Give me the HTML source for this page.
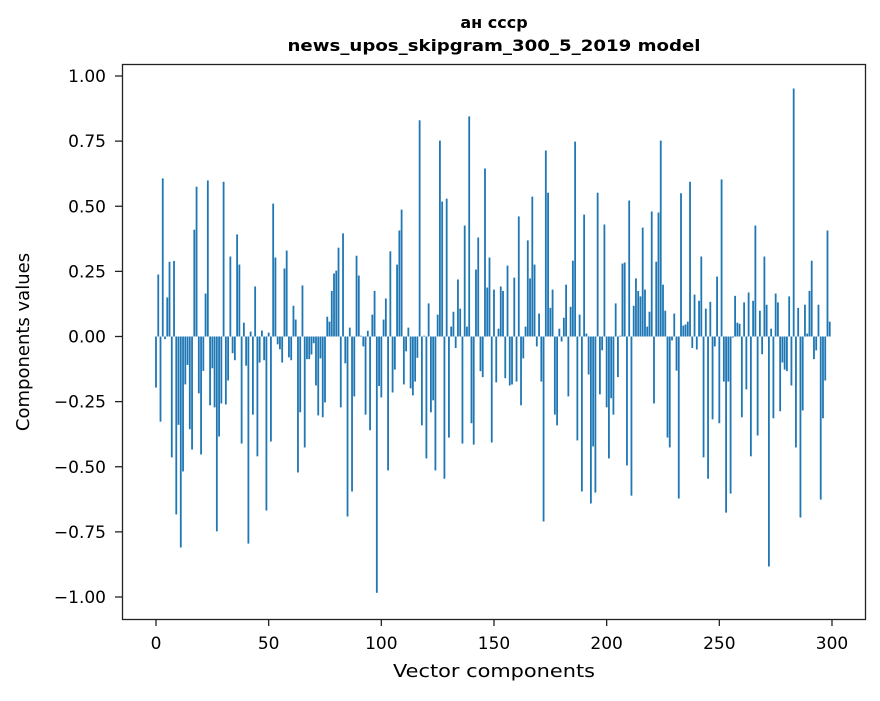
<!DOCTYPE html>
<html><head><meta charset="utf-8"><style>
html,body{margin:0;padding:0;background:#fff;}
svg text{font-family:"DejaVu Sans","Liberation Sans",sans-serif;fill:#000;}
</style></head><body>
<svg id="chart" width="880" height="696" viewBox="0 0 880 696" xmlns="http://www.w3.org/2000/svg">
<rect width="880" height="696" fill="#fff"/>
<text x="494" y="28" font-size="16" font-weight="bold" text-anchor="middle">ан ссср</text>
<text x="494" y="51" font-size="16" font-weight="bold" text-anchor="middle" textLength="413" lengthAdjust="spacingAndGlyphs">news_upos_skipgram_300_5_2019 model</text>
<g id="bars"></g>
<g id="axes"></g>
<rect x="122.5" y="64.5" width="743" height="555" fill="none" stroke="#222" stroke-width="1.3"/>
<text x="494" y="677" font-size="18" text-anchor="middle" textLength="202" lengthAdjust="spacingAndGlyphs">Vector components</text>
<text transform="translate(29,342) rotate(-90)" font-size="18" text-anchor="middle">Components values</text>
</svg>
<script>
const values = [
-0.196,0.238,-0.327,0.607,-0.01,0.15,0.287,-0.464,0.29,-0.683,
-0.339,-0.81,-0.518,-0.184,-0.109,-0.356,-0.434,0.41,0.575,-0.218,
-0.453,-0.132,0.165,0.599,-0.264,-0.122,-0.272,-0.748,-0.384,-0.257,
0.594,-0.261,-0.169,0.307,-0.064,-0.091,0.392,0.276,-0.411,0.053,
-0.112,-0.795,0.019,-0.30,0.192,-0.46,-0.10,0.023,-0.091,-0.668,
0.015,-0.403,0.51,0.303,-0.03,-0.049,-0.10,0.261,0.33,-0.08,
-0.091,0.118,0.065,-0.522,-0.291,0.196,-0.426,-0.087,-0.087,-0.069,
-0.026,-0.188,-0.303,-0.084,-0.31,-0.253,0.076,0.057,0.175,0.242,
0.253,0.341,-0.272,0.396,-0.103,-0.691,0.034,-0.595,-0.23,0.31,
0.234,0.003,-0.038,-0.30,0.022,-0.36,0.084,0.175,-0.984,-0.19,
-0.234,0.065,0.146,-0.514,0.327,-0.215,-0.127,0.276,0.407,0.487,
-0.184,-0.057,0.034,-0.199,-0.226,-0.173,-0.082,0.83,-0.341,0.003,
-0.468,0.127,-0.291,-0.245,-0.514,0.084,0.752,0.518,-0.546,0.529,
-0.388,0.038,0.095,-0.044,0.219,0.107,-0.411,0.426,0.038,0.845,
-0.333,-0.415,0.257,0.38,-0.133,-0.156,0.645,0.188,0.303,-0.407,
0.18,-0.176,0.03,0.192,0.175,-0.16,0.272,-0.188,-0.184,0.226,
-0.173,0.461,-0.264,-0.084,0.038,0.369,0.223,0.537,0.276,-0.038,
0.088,-0.173,-0.71,0.714,0.552,0.11,0.18,-0.30,-0.341,0.03,
-0.019,0.072,0.199,-0.23,0.114,0.291,0.748,-0.399,0.084,-0.595,
0.468,0.011,-0.146,-0.641,-0.422,-0.599,0.552,-0.222,-0.053,0.43,
-0.272,-0.468,-0.237,-0.30,0.127,-0.156,0.003,0.28,0.284,-0.495,
0.522,-0.611,0.118,0.223,0.175,0.154,0.418,0.18,0.038,0.095,
0.48,-0.257,0.287,0.476,0.752,0.199,0.099,-0.388,-0.426,-0.015,
0.088,-0.131,-0.622,0.55,0.042,0.046,0.057,0.594,-0.044,0.161,
-0.05,0.137,0.307,-0.464,0.107,-0.546,0.133,-0.318,-0.038,0.23,
-0.333,0.603,-0.173,-0.676,-0.173,-0.603,-0.004,0.156,0.053,0.049,
-0.31,0.131,-0.203,0.169,-0.46,0.137,0.426,-0.38,0.099,-0.068,
0.307,0.122,-0.883,0.03,-0.314,0.165,0.131,-0.287,-0.10,-0.127,
-0.133,0.154,-0.188,0.952,-0.426,0.11,-0.695,-0.284,0.122,0.011,
0.175,0.291,-0.087,-0.053,0.122,-0.626,-0.314,-0.169,0.407,0.057
];
const xTicks = [0,50,100,150,200,250,300];
const yTicks = [-1.00,-0.75,-0.50,-0.25,0.00,0.25,0.50,0.75,1.00];
const yTickLabels = ["\u22121.00","\u22120.75","\u22120.50","\u22120.25","0.00","0.25","0.50","0.75","1.00"];

const NS = "http://www.w3.org/2000/svg";
function xs(v){ return 156 + v * 2.2533; }
function ys(v){ return 336.5 - v * 260.5; }
const barsG = document.getElementById('bars');
const bw = 0.8 * 2.2533;
values.forEach((v, i) => {
  const r = document.createElementNS(NS, 'rect');
  const y0 = ys(0), y1 = ys(v);
  r.setAttribute('x', xs(i) - bw / 2);
  r.setAttribute('y', Math.min(y0, y1));
  r.setAttribute('width', bw);
  r.setAttribute('height', Math.max(Math.abs(y1 - y0), 0.01));
  r.setAttribute('fill', '#1f77b4');
  
  
  barsG.appendChild(r);
});
const axesG = document.getElementById('axes');
xTicks.forEach(t => {
  const l = document.createElementNS(NS, 'line');
  l.setAttribute('x1', xs(t)); l.setAttribute('x2', xs(t));
  l.setAttribute('y1', 619); l.setAttribute('y2', 626);
  l.setAttribute('stroke', '#222'); l.setAttribute('stroke-width', '1.3');
  
  
  axesG.appendChild(l);
  const tx = document.createElementNS(NS, 'text');
  tx.setAttribute('x', xs(t)); tx.setAttribute('y', 649);
  tx.setAttribute('font-size', '17'); tx.setAttribute('text-anchor', 'middle');
  tx.textContent = String(t);
  
  
  axesG.appendChild(tx);
});
yTicks.forEach((t, k) => {
  const l = document.createElementNS(NS, 'line');
  l.setAttribute('x1', 115); l.setAttribute('x2', 122);
  l.setAttribute('y1', ys(t)); l.setAttribute('y2', ys(t));
  l.setAttribute('stroke', '#222'); l.setAttribute('stroke-width', '1.3');
  
  
  axesG.appendChild(l);
  const tx = document.createElementNS(NS, 'text');
  tx.setAttribute('x', 106); tx.setAttribute('y', ys(t) + 6);
  tx.setAttribute('font-size', '17'); tx.setAttribute('text-anchor', 'end');
  tx.textContent = yTickLabels[k];
  
  
  axesG.appendChild(tx);
});
</script>
</body></html>
